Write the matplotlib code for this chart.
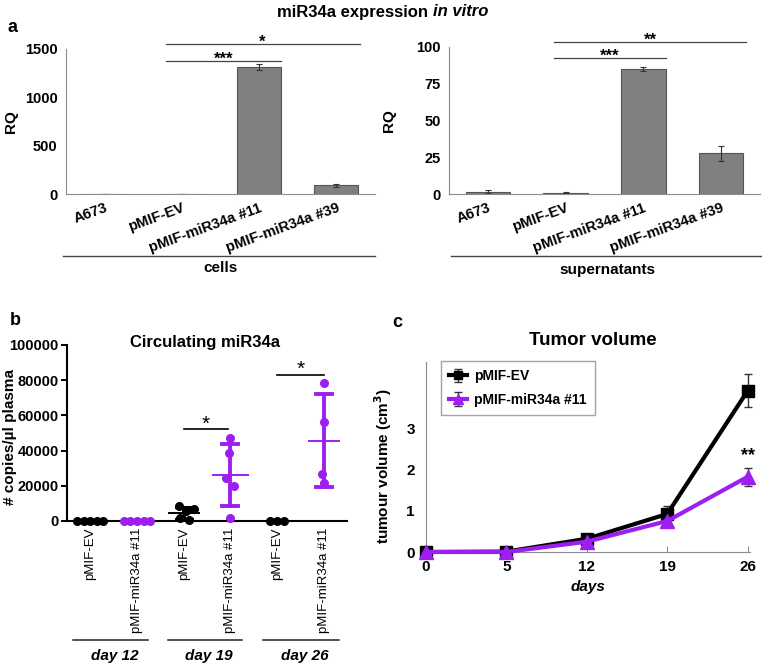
import numpy as np
import matplotlib
matplotlib.use('Agg')
import matplotlib.pyplot as plt
from matplotlib.lines import Line2D

plt.rcParams['font.family'] = ['Liberation Sans', 'DejaVu Sans']
plt.rcParams['font.weight'] = 'bold'
plt.rcParams['axes.labelweight'] = 'bold'
plt.rcParams['axes.titleweight'] = 'bold'

W, H = 762, 663
PURPLE = '#9d1ff0'
GREY_AX = '#8c8c8c'

# 面板 a：体外 miR34a 表达 (RQ)
groups_a = ['A673', 'pMIF-EV', 'pMIF-miR34a #11', 'pMIF-miR34a #39']
rq_cells = [1, 1, 1315, 90]
rq_cells_err = [0.5, 0.5, 30, 15]
rq_sup = [1.6, 1.0, 85.2, 27.6]
rq_sup_err = [1.2, 0.2, 1.3, 4.9]

# 面板 b：循环 miR34a (copies/ul plasma)
b_labels = ['pMIF-EV', 'pMIF-miR34a #11'] * 3
b_days = ['day 12', 'day 19', 'day 26']
copies = [
    [0, 0, 0, 0, 0],
    [0, 0, 0, 0, 0],
    [8800, 6800, 5500, 1500, 500],
    [47000, 38800, 24200, 20000, 1500],
    [0, 0, 0],
    [78200, 56000, 26500, 21800],
]
jitter = [
    [-0.28, -0.14, 0, 0.14, 0.28],
    [-0.28, -0.14, 0, 0.14, 0.28],
    [-0.1, 0.22, 0.05, -0.08, 0.12],
    [0.0, -0.02, -0.1, 0.08, 0.0],
    [-0.14, 0, 0.14],
    [0.0, 0.0, -0.03, 0.0],
]

# 面板 c：肿瘤体积
days = ['0', '5', '12', '19', '26']
vol_ev = [0, 0.01, 0.32, 0.92, 3.9]
vol_ev_err = [0, 0.01, 0.04, 0.2, 0.4]
vol_mir = [0, 0, 0.25, 0.75, 1.82]
vol_mir_err = [0, 0, 0.03, 0.06, 0.22]


def ax_at(l, t, r, b):
    return fig.add_axes([l / W, 1 - b / H, (r - l) / W, (b - t) / H])


def fx(x):
    return x / W


def fy(y):
    return 1 - y / H


def hline(x0, x1, y, color='#444444', lw=1.0):
    fig.add_artist(Line2D([fx(x0), fx(x1)], [fy(y), fy(y)], color=color, lw=lw))


fig = plt.figure(figsize=(W / 100, H / 100), dpi=100)


def bar_panel(ax, vals, errs, ymax, yticks, sig, label_x):
    x = np.arange(len(groups_a))
    ax.bar(x, vals, width=0.57, color='#808080', edgecolor='#555555', lw=0.8,
           yerr=errs, error_kw=dict(ecolor='#333333', elinewidth=0.8, capsize=2, capthick=0.8))
    ax.set_xlim(-0.5, 3.5)
    ax.set_ylim(0, ymax)
    ax.set_yticks(yticks)
    ax.tick_params(axis='y', length=0, labelsize=10.5, pad=6)
    ax.set_xticks(x)
    ax.set_xticklabels(groups_a, rotation=20, ha='right', va='top',
                       rotation_mode='anchor', fontsize=10.5)
    ax.tick_params(axis='x', length=0, pad=5)
    for s in ['top', 'right']:
        ax.spines[s].set_visible(False)
    for s in ['left', 'bottom']:
        ax.spines[s].set_color(GREY_AX)
    ax.set_ylabel('RQ', fontsize=11)
    ax.yaxis.set_label_coords(label_x, 0.5)
    for x0, x1, y, txt in sig:
        ax.plot([x0, x1], [y, y], color='#444444', lw=0.9, clip_on=False)
        ax.annotate(txt, xy=((x0 + x1) / 2, y), xytext=(0, -3), textcoords='offset pixels',
                    ha='center', va='baseline', fontsize=12, annotation_clip=False)


ax1 = ax_at(66, 49, 375, 194)
bar_panel(ax1, rq_cells, rq_cells_err, 1500, [0, 500, 1000, 1500],
          [(0.79, 3.3, 1555, '*'), (0.79, 2.28, 1375, '***')], -0.155)
ax2 = ax_at(449, 47, 760, 194)
bar_panel(ax2, rq_sup, rq_sup_err, 100, [0, 25, 50, 75, 100],
          [(0.85, 3.32, 103.4, '**'), (0.85, 2.29, 92.5, '***')], -0.17)

hline(63, 375, 256)
hline(451, 762, 256)
fig.text(fx(220), fy(268), 'cells', ha='center', va='center', fontsize=11)
fig.text(fx(607), fy(270), 'supernatants', ha='center', va='center', fontsize=11)

fig.text(fx(428), fy(12), 'miR34a expression', ha='right', va='center', fontsize=12)
fig.text(fx(433), fy(12), 'in vitro', ha='left', va='center', fontsize=12, style='italic')
fig.text(fx(7), fy(28), 'a', ha='left', va='center', fontsize=13)

# 面板 b
ax3 = ax_at(67, 345, 347, 521)
for i, vals in enumerate(copies):
    col = 'black' if i % 2 == 0 else PURPLE
    xs = i + np.array(jitter[i])
    ax3.plot(xs, vals, 'o', color=col, ms=5.5, clip_on=False, zorder=3)
    v = np.array(vals, dtype=float)
    if v.std() > 0:
        m = v.mean()
        sd = v.std(ddof=1)
        half = 0.38 if i == 3 else 0.32
        ax3.plot([i - half, i + half], [m, m], color=col, lw=1.4, zorder=2)
        lw = 2.8 if col == PURPLE else 2.2
        ax3.plot([i, i], [m - sd, m + sd], color=col, lw=lw, zorder=2)
        for yy in (m - sd, m + sd):
            ax3.plot([i - 0.17, i + 0.17], [yy, yy], color=col, lw=lw, zorder=2)
ax3.set_xlim(-0.5, 5.5)
ax3.set_ylim(0, 100000)
ax3.set_yticks(np.arange(0, 100001, 20000))
ax3.tick_params(axis='y', length=4, width=1.4, labelsize=10.5, pad=2)
ax3.set_xticks(range(6))
ax3.set_xticklabels(b_labels, rotation=90, fontsize=9.5, fontweight='normal')
ax3.tick_params(axis='x', length=0, pad=5)
for s in ['top', 'right']:
    ax3.spines[s].set_visible(False)
for s in ['left', 'bottom']:
    ax3.spines[s].set_linewidth(1.5)
ax3.set_ylabel('# copies/\u00b5l plasma', fontsize=11)
ax3.yaxis.set_label_coords(-0.18, 0.48)
for x0, x1, y in [(2, 2.96, 52000), (4, 5.0, 83000)]:
    ax3.plot([x0, x1], [y, y], color='black', lw=1.2, clip_on=False)
    ax3.annotate('*', xy=((x0 + x1) / 2, y), xytext=(0, 0), textcoords='offset pixels',
                 ha='center', va='baseline', fontsize=15, fontweight='normal', annotation_clip=False)
fig.text(fx(205), fy(342), 'Circulating miR34a', ha='center', va='center', fontsize=12)

for (x0, x1), lab in zip([(73, 148), (168, 242), (263, 339)], b_days):
    hline(x0, x1, 640, color='#222222', lw=1.1)
    fig.text(fx((x0 + x1) / 2 + 4), fy(656), lab, ha='center', va='center', fontsize=11,
             style='italic')
fig.text(fx(10), fy(320), 'b', ha='left', va='center', fontsize=13)

# 面板 c
ax4 = ax_at(426, 362, 750, 552)
x = np.arange(len(days))
ax4.errorbar(x, vol_ev, yerr=vol_ev_err, color='black', lw=3, marker='s', ms=8.5,
             ecolor='#333333', elinewidth=1, capsize=3, capthick=1, clip_on=False,
             label='pMIF-EV', zorder=3)
ax4.errorbar(x, vol_mir, yerr=vol_mir_err, color=PURPLE, lw=3, marker='^', ms=10,
             ecolor='#333333', elinewidth=1, capsize=3, capthick=1, clip_on=False,
             label='pMIF-miR34a #11', zorder=4)
ax4.set_xlim(0, 4.03)
ax4.set_ylim(0, 4.6)
ax4.set_yticks([0, 1, 2, 3])
ax4.set_xticks(x)
ax4.set_xticklabels(days)
ax4.tick_params(axis='both', labelsize=11, color=GREY_AX)
ax4.tick_params(axis='y', length=0, pad=8)
ax4.tick_params(axis='x', direction='in', length=4, pad=6)
for s in ['top', 'right']:
    ax4.spines[s].set_visible(False)
for s in ['left', 'bottom']:
    ax4.spines[s].set_color(GREY_AX)
ax4.set_ylabel('tumour volume (cm$^\\mathbf{3}$)', fontsize=11)
ax4.yaxis.set_label_coords(-0.1, 0.45)
ax4.set_xlabel('days', fontsize=11, style='italic', labelpad=4)
ax4.annotate('**', xy=(4, vol_mir[4] + vol_mir_err[4]), xytext=(0, 8), textcoords='offset pixels',
             ha='center', va='baseline', fontsize=13, annotation_clip=False)
leg = ax4.legend(loc='upper left', bbox_to_anchor=(fx(441), fy(361)), bbox_transform=fig.transFigure,
                 fontsize=10, frameon=True, fancybox=False, edgecolor=GREY_AX,
                 handlelength=1.3, markerscale=0.75, borderpad=0.6, labelspacing=0.7,
                 handletextpad=0.5, borderaxespad=0)
leg.get_frame().set_linewidth(1)
fig.text(fx(593), fy(341), 'Tumor volume', ha='center', va='center', fontsize=13.5)
fig.text(fx(397), fy(322), 'c', ha='center', va='center', fontsize=13)

fig.savefig('out.png', dpi=100)
